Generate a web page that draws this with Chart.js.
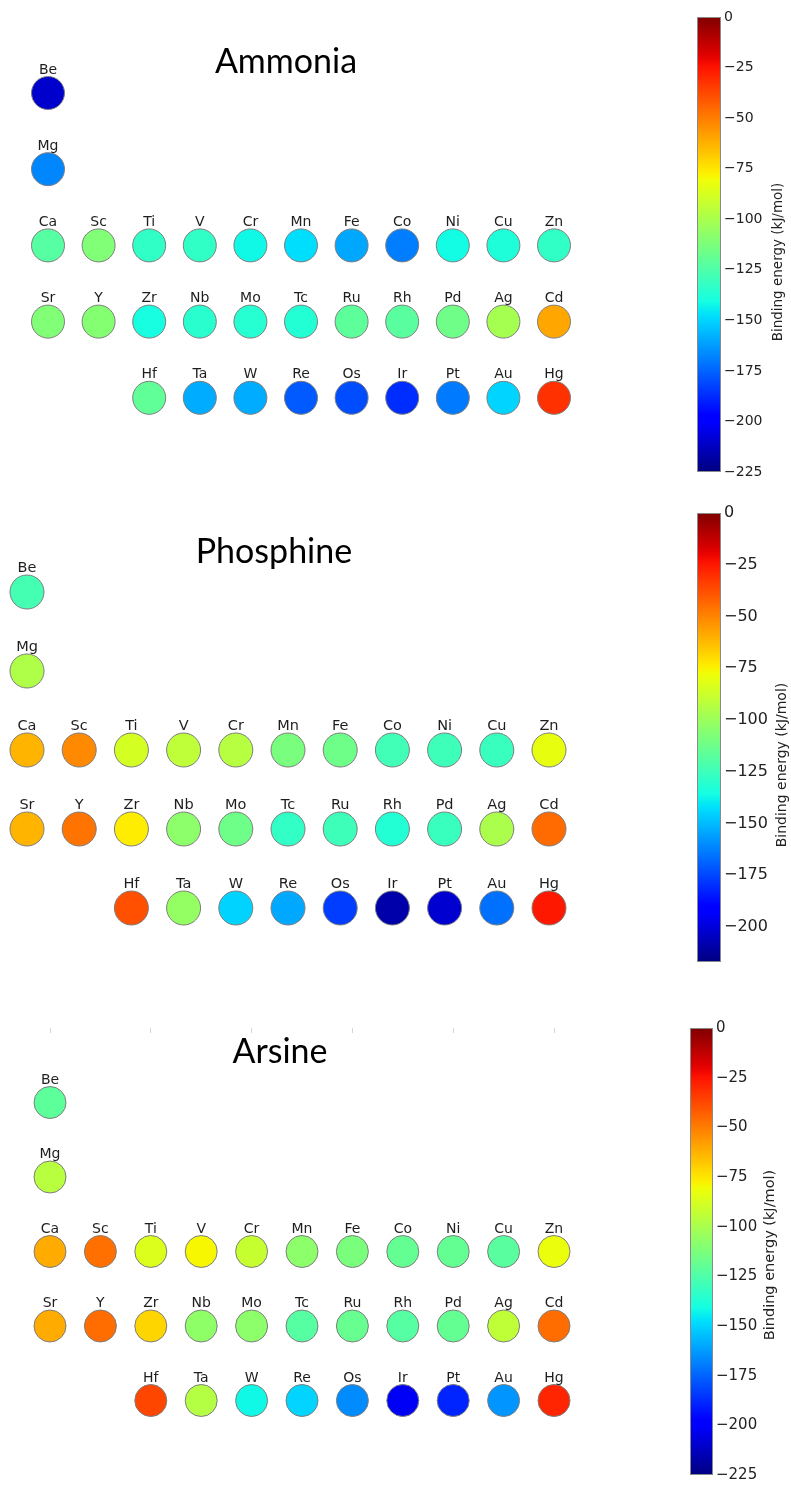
<!DOCTYPE html>
<html>
<head>
<meta charset="utf-8">
<script src="https://cdn.jsdelivr.net/npm/chart.js@4.4.1/dist/chart.umd.min.js"></script>
<style>
  body { margin: 0; background: #fff; width: 791px; height: 1487px; position: relative; overflow: hidden; }
  .panel { position: absolute; left: 0; width: 791px; }
  canvas { display: block; }
</style>
</head>
<body>
<div class="panel"><canvas id="panel0"></canvas></div>
<div class="panel"><canvas id="panel1"></canvas></div>
<div class="panel"><canvas id="panel2"></canvas></div>
<script>
// element symbols, column (group 2 = column 0) and period
const symbols = ['Be','Mg',
  'Ca','Sc','Ti','V','Cr','Mn','Fe','Co','Ni','Cu','Zn',
  'Sr','Y','Zr','Nb','Mo','Tc','Ru','Rh','Pd','Ag','Cd',
  'Hf','Ta','W','Re','Os','Ir','Pt','Au','Hg'];
const columns = [0,0,
  0,1,2,3,4,5,6,7,8,9,10,
  0,1,2,3,4,5,6,7,8,9,10,
  2,3,4,5,6,7,8,9,10];
const periods = [2,3,
  4,4,4,4,4,4,4,4,4,4,4,
  5,5,5,5,5,5,5,5,5,5,5,
  6,6,6,6,6,6,6,6,6];

// binding energies (kJ/mol)
const ammoniaEnergy = [-210,-167,
  -123,-111,-133,-133,-142,-148,-160,-169,-141,-138,-133,
  -111,-110,-140,-135,-136,-137,-121,-122,-116,-101,-60,
  -120,-159,-159,-177,-180,-187,-170,-150,-32];
const phosphineEnergy = [-123,-95,
  -61,-51,-85,-91,-93,-109,-112,-124,-125,-126,-80,
  -61,-46,-74,-104,-112,-128,-125,-132,-126,-96,-44,
  -38,-102,-145,-154,-177,-209,-202,-166,-25];
const arsineEnergy = [-121,-96,
  -61,-47,-86,-79,-92,-108,-113,-119,-119,-122,-82,
  -61,-46,-71,-107,-108,-123,-118,-123,-119,-94,-46,
  -37,-97,-142,-150,-166,-202,-189,-164,-29];

const panelTitles = ['Ammonia', 'Phosphine', 'Arsine'];
const panelEnergies = [ammoniaEnergy, phosphineEnergy, arsineEnergy];
const colorbarMins = [-225, -217, -225];
const colorbarTicks = [0, -25, -50, -75, -100, -125, -150, -175, -200, -225];
const colorbarLabel = 'Binding energy (kJ/mol)';
const topTickColumns = [0, 2, 4, 6, 8, 10];

// page layout of each panel
const layouts = [
  { top: 0, height: 490, col0: 48, colStep: 50.6, row0: 93, rowStep: 76.2, radius: 16.5,
    barTop: 17, barBottom: 472, barRight: 721, barWidth: 24,
    titleX: 286, titleY: 62, titleSize: 34, labelX: 778, labelY: 262,
    tickSize: 14, labelSize: 13.5, symbolSize: 14, topTicks: false },
  { top: 490, height: 495, col0: 27, colStep: 52.2, row0: 592, rowStep: 79, radius: 17,
    barTop: 513, barBottom: 962, barRight: 721, barWidth: 24,
    titleX: 274, titleY: 552, titleSize: 34, labelX: 782, labelY: 765,
    tickSize: 16, labelSize: 14, symbolSize: 14.5, topTicks: false },
  { top: 985, height: 502, col0: 50, colStep: 50.4, row0: 1103, rowStep: 75, radius: 16,
    barTop: 1028, barBottom: 1478, barRight: 713, barWidth: 23,
    titleX: 280, titleY: 1052, titleSize: 34, labelX: 770, labelY: 1255,
    tickSize: 15, labelSize: 14.5, symbolSize: 14, topTicks: true }
];

function jet(t) {
  t = Math.min(1, Math.max(0, t));
  const seg = pts => {
    for (let i = 1; i < pts.length; i++) {
      if (t <= pts[i][0]) {
        const [x0, y0] = pts[i - 1], [x1, y1] = pts[i];
        return y0 + (y1 - y0) * (t - x0) / (x1 - x0);
      }
    }
    return pts[pts.length - 1][1];
  };
  const r = seg([[0,0],[0.35,0],[0.66,1],[0.89,1],[1,0.5]]);
  const g = seg([[0,0],[0.125,0],[0.375,1],[0.64,1],[0.91,0],[1,0]]);
  const b = seg([[0,0.5],[0.11,1],[0.34,1],[0.65,0],[1,0]]);
  return 'rgb(' + Math.round(r * 255) + ',' + Math.round(g * 255) + ',' + Math.round(b * 255) + ')';
}

// gradient bar + rotated label next to the cb axis
const colorbarPlugin = {
  id: 'colorbar',
  afterDraw(chart, args, opts) {
    const cb = chart.scales.cb;
    const ctx = chart.ctx;
    const x1 = cb.left, x0 = x1 - opts.width;
    const yTop = cb.getPixelForValue(cb.max), yBot = cb.getPixelForValue(cb.min);
    const grad = ctx.createLinearGradient(0, yBot, 0, yTop);
    for (let i = 0; i <= 64; i++) grad.addColorStop(i / 64, jet(i / 64));
    ctx.save();
    ctx.fillStyle = grad;
    ctx.fillRect(x0, yTop, opts.width, yBot - yTop);
    ctx.strokeStyle = '#8a8a8a';
    ctx.lineWidth = 1;
    ctx.strokeRect(x0 + 0.5, yTop + 0.5, opts.width - 1, yBot - yTop - 1);
    ctx.translate(opts.labelX, opts.labelY);
    ctx.rotate(-Math.PI / 2);
    ctx.font = opts.labelSize + 'px "DejaVu Sans"';
    ctx.fillStyle = '#222';
    ctx.textAlign = 'center';
    ctx.textBaseline = 'middle';
    ctx.fillText(colorbarLabel, 0, 0);
    ctx.restore();
  }
};

const symbolPlugin = {
  id: 'symbols',
  afterDatasetsDraw(chart, args, opts) {
    const ctx = chart.ctx;
    const meta = chart.getDatasetMeta(0);
    ctx.save();
    ctx.font = opts.size + 'px "DejaVu Sans"';
    ctx.fillStyle = '#1e1e1e';
    ctx.textAlign = 'center';
    ctx.textBaseline = 'alphabetic';
    meta.data.forEach((pt, i) => {
      const p = pt.getProps(['x', 'y'], true);
      ctx.fillText(symbols[i], p.x, p.y - opts.radius - 3);
    });
    ctx.restore();
  }
};

const titlePlugin = {
  id: 'panelTitle',
  afterDraw(chart, args, opts) {
    const ctx = chart.ctx;
    ctx.save();
    ctx.font = opts.size + 'px Lato, "Open Sans", sans-serif';
    ctx.fillStyle = '#000';
    ctx.textAlign = 'center';
    ctx.textBaseline = 'middle';
    ctx.fillText(opts.text, opts.x, opts.y);
    ctx.restore();
  }
};

panelTitles.forEach((title, k) => {
  const L = layouts[k];
  const energy = panelEnergies[k];
  const cbMin = colorbarMins[k];
  const canvas = document.getElementById('panel' + k);
  canvas.parentNode.style.top = L.top + 'px';
  canvas.width = 791;
  canvas.height = L.height;

  const areaTop = L.barTop - L.top;
  const areaBottom = L.barBottom - L.top;
  const xMin = -L.col0 / L.colStep;
  const xMax = xMin + L.barRight / L.colStep;
  const yMin = 2 - (L.row0 - L.barTop) / L.rowStep;
  const yMax = yMin + (L.barBottom - L.barTop) / L.rowStep;

  new Chart(canvas, {
    type: 'bubble',
    data: {
      datasets: [{
        data: symbols.map((s, i) => ({ x: columns[i], y: periods[i] })),
        backgroundColor: energy.map(e => jet((e - cbMin) / (0 - cbMin))),
        borderColor: '#7d7d7d',
        borderWidth: 1,
        radius: L.radius,
        clip: false,
        xAxisID: 'x',
        yAxisID: 'y'
      }]
    },
    options: {
      responsive: false,
      animation: false,
      events: [],
      layout: {
        autoPadding: false,
        padding: { top: areaTop, bottom: L.height - areaBottom, left: 0, right: 791 - L.barRight - 70 }
      },
      scales: {
        x: {
          type: 'linear', min: xMin, max: xMax, position: 'top',
          display: L.topTicks,
          ticks: { display: false },
          grid: { drawOnChartArea: false, tickLength: -5, color: '#d6d6d6' },
          border: { display: false },
          afterBuildTicks: s => { s.ticks = topTickColumns.map(v => ({ value: v })); },
          afterFit: s => { s.height = 0; }
        },
        y: { type: 'linear', min: yMin, max: yMax, reverse: true, display: false },
        cb: {
          type: 'linear', position: 'right', min: cbMin, max: 0,
          afterBuildTicks: s => { s.ticks = colorbarTicks.filter(v => v >= cbMin).map(v => ({ value: v })); },
          afterFit: s => { s.width = 70; },
          ticks: {
            padding: 3,
            color: '#222',
            font: { family: 'DejaVu Sans', size: L.tickSize },
            callback: v => v < 0 ? '\u2212' + Math.abs(v) : String(v)
          },
          grid: { display: false, drawTicks: false },
          border: { display: false }
        }
      },
      plugins: {
        legend: { display: false },
        tooltip: { enabled: false },
        colorbar: { width: L.barWidth, labelX: L.labelX, labelY: L.labelY - L.top, labelSize: L.labelSize },
        symbols: { radius: L.radius, size: L.symbolSize },
        panelTitle: { text: title, x: L.titleX, y: L.titleY - L.top, size: L.titleSize }
      }
    },
    plugins: [colorbarPlugin, symbolPlugin, titlePlugin]
  });
});
</script>
</body>
</html>
